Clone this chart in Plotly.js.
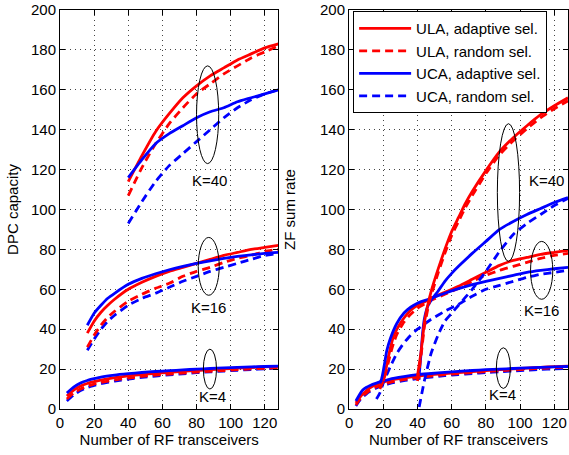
<!DOCTYPE html>
<html>
<head>
<meta charset="utf-8">
<script src="https://cdn.plot.ly/plotly-3.0.1.min.js"></script>
<style>html,body{margin:0;padding:0;background:#fff;}#chart{width:569px;height:455px;}</style>
</head>
<body>
<div id="chart"></div>
<script>
// ---------- Data ----------
const seriesNames = ["ULA, adaptive sel.", "ULA, random sel.", "UCA, adaptive sel.", "UCA, random sel."];
const xTicks = [0, 20, 40, 60, 80, 100, 120];
const yTicks = [0, 20, 40, 60, 80, 100, 120, 140, 160, 180, 200];

// DPC capacity (left)
const dpcX_K4 = [4,8,12,16,20,24,32,40,48,56,64,72,80,88,96,104,112,120,128];
const dpcK4_ulaAdapt = [6.5,9.5,11.5,12.8,13.7,14.5,15.7,16.6,17.3,17.9,18.4,18.9,19.3,19.7,20.1,20.5,20.8,21.1,21.4];
const dpcK4_ulaRand  = [5,8,10,11.5,12.5,13.3,14.6,15.5,16.3,17,17.5,18,18.5,18.9,19.3,19.7,20.1,20.4,20.8];
const dpcK4_ucaAdapt = [8,11,13,14.3,15.2,16,17,17.7,18.3,18.8,19.2,19.6,20,20.3,20.6,20.9,21.1,21.3,21.5];
const dpcK4_ucaRand  = [4,7,9.3,10.8,11.8,12.7,14,15,15.8,16.5,17.1,17.6,18.2,18.6,19,19.4,19.8,20.1,20.5];

const dpcX_K16 = [16,20,24,28,32,40,48,56,64,72,80,88,96,104,112,120,128];
const dpcK16_ulaAdapt = [38,44,48.5,52,55,60,63.5,66.5,69,71,73,75,77,78.5,80,81,82];
const dpcK16_ulaRand  = [31,37,42,46,49,54,57.5,60.5,63,66.5,69,71,73.5,75.5,77,79,80];
const dpcK16_ucaAdapt = [42,48,52,55.5,58,62.5,65.5,67.8,69.8,71.5,73,74.3,75.5,76.5,77.3,78,78.5];
const dpcK16_ucaRand  = [29.5,35,40,44,47,52,55.5,58,61,64,66.5,69,71,73,75,77,78];

const dpcX_K40 = [40,48,56,64,72,80,88,96,104,112,120,128];
const dpcK40_ulaAdapt = [114,127,139,148,156,162,167,171,175,178,181,183];
const dpcK40_ulaRand  = [107,121,133,143,151,158,163,168,172,176,179,182];
const dpcK40_ucaAdapt = [116,125,133,138,142,146,149,151,154,156,158,160];
const dpcK40_ucaRand  = [93,104,114,122,128,134,140,146,151,155,158,160];

// ZF sum rate (right)
const zfX_K4 = [4,6,8,10,12,16,20,24,32,40,48,56,64,72,80,88,96,104,112,120,128];
const zfK4_ulaAdapt = [3,5.5,7.5,9,10.5,12.3,13.5,14.4,15.6,16.5,17.2,17.8,18.3,18.8,19.3,19.7,20.1,20.5,20.9,21.2,21.5];
const zfK4_ulaRand  = [2,4.5,6.5,8,9.3,11,12.3,13.3,14.7,15.7,16.5,17.2,17.8,18.3,18.8,19.2,19.6,20,20.4,20.7,21];
const zfK4_ucaAdapt = [4,7,9.5,10.8,11.7,13,14,15,16.2,17.2,17.8,18.4,18.9,19.3,19.7,20,20.3,20.6,20.9,21.1,21.3];
const zfK4_ucaRand  = [1.5,4,6,7.5,8.7,10.5,11.8,12.8,14.2,15.2,16,16.7,17.3,17.8,18.3,18.7,19.1,19.5,19.8,20.1,20.4];

const zfX_K16_ulaAdapt = [20,21,22,24,26,28,30,32,36,40,44,48,52,56,64,72,80,88,96,104,112,120,128];
const zfK16_ulaAdapt   = [14,17,22,30,36.5,40,43,45.5,49.5,52,53.7,55.3,57,58.5,61.5,65,68.5,72,74.5,76,77.5,78.5,79.5];
const zfX_K16_ulaRand  = [18,20,22,24,26,28,32,36,40,48,56,64,72,80,88,96,104,112,120,128];
const zfK16_ulaRand    = [10,14,20,27,33,37.5,43.5,47.5,50.5,54.5,57.5,60.5,64,67,69.5,71.5,73.5,75.5,77,78];
const zfX_K16_ucaAdapt = [18,19,20,21,22,24,28,32,36,40,44,48,52,56,64,72,80,88,96,104,112,120,128];
const zfK16_ucaAdapt   = [13,15,19,24,29,35,43,48,51,53,54.3,55.5,56.8,58,60.3,62.3,64,65.5,67,68.5,69.5,70.3,71];
const zfX_K16_ucaRand  = [16,18,20,24,28,32,36,40,48,56,64,72,80,88,96,104,112,120,128];
const zfK16_ucaRand    = [5,8,13,21,28,33,37,40,45,49,52.5,56.5,60,62,64,66,67.5,68.5,69.5];

const zfX_K40_ula      = [40,42,44,46,48,52,56,60,64,68,72,80,88,96,104,112,120,128];
const zfK40_ulaAdapt   = [16.5,28,43,52,59,70,80,89,96,103,109,119.5,129,136,142,147.5,152,156];
const zfK40_ulaRand    = [14,26,41,50,57,68,78,87,94,101,107,118,127.5,134.5,140.5,146,150.5,154.5];
const zfX_K40_ucaAdapt = [41,42,43,44,46,48,52,56,60,64,72,80,88,96,104,112,120,128];
const zfK40_ucaAdapt   = [17,27,38,45,51.5,54.5,59,64,68,71.5,78,84,90,94,97.5,100.5,103.5,106];
const zfX_K40_ucaRand  = [41,44,48,52,56,60,64,72,80,88,96,104,112,120,128];
const zfK40_ucaRand    = [1,14,28,37,44,48,52,60,69,79,87.5,93,97.5,102,105.5];

// ---------- Styles ----------
const RED = '#ff0000', BLUE = '#0000ff';
const LW = 2.8;
const DASH = '8px,5px';
const styles = [
  {color: RED, dash: 'solid'},
  {color: RED, dash: DASH},
  {color: BLUE, dash: 'solid'},
  {color: BLUE, dash: DASH}
];

const traces = [];
function add(x, y, idx, xa, ya, showLegend) {
  traces.push({
    x: x, y: y, type: 'scatter', mode: 'lines',
    name: seriesNames[idx], legendgroup: 'g' + idx, showlegend: !!showLegend,
    line: {color: styles[idx].color, width: LW, dash: styles[idx].dash, shape: 'spline', smoothing: 0.5},
    xaxis: xa, yaxis: ya, hoverinfo: 'skip'
  });
}

// Left: DPC
add(dpcX_K4, dpcK4_ucaRand, 3, 'x', 'y');
add(dpcX_K4, dpcK4_ulaRand, 1, 'x', 'y');
add(dpcX_K4, dpcK4_ulaAdapt, 0, 'x', 'y');
add(dpcX_K4, dpcK4_ucaAdapt, 2, 'x', 'y');
add(dpcX_K16, dpcK16_ucaRand, 3, 'x', 'y');
add(dpcX_K16, dpcK16_ulaRand, 1, 'x', 'y');
add(dpcX_K16, dpcK16_ulaAdapt, 0, 'x', 'y');
add(dpcX_K16, dpcK16_ucaAdapt, 2, 'x', 'y');
add(dpcX_K40, dpcK40_ulaAdapt, 0, 'x', 'y', true);
add(dpcX_K40, dpcK40_ulaRand, 1, 'x', 'y', true);
add(dpcX_K40, dpcK40_ucaAdapt, 2, 'x', 'y', true);
add(dpcX_K40, dpcK40_ucaRand, 3, 'x', 'y', true);

// Right: ZF
add(zfX_K4, zfK4_ucaRand, 3, 'x2', 'y2');
add(zfX_K4, zfK4_ulaRand, 1, 'x2', 'y2');
add(zfX_K4, zfK4_ulaAdapt, 0, 'x2', 'y2');
add(zfX_K4, zfK4_ucaAdapt, 2, 'x2', 'y2');
add(zfX_K16_ucaRand, zfK16_ucaRand, 3, 'x2', 'y2');
add(zfX_K16_ulaRand, zfK16_ulaRand, 1, 'x2', 'y2');
add(zfX_K16_ulaAdapt, zfK16_ulaAdapt, 0, 'x2', 'y2');
add(zfX_K16_ucaAdapt, zfK16_ucaAdapt, 2, 'x2', 'y2');
add(zfX_K40_ucaRand, zfK40_ucaRand, 3, 'x2', 'y2');
add(zfX_K40_ucaAdapt, zfK40_ucaAdapt, 2, 'x2', 'y2');
add(zfX_K40_ula, zfK40_ulaRand, 1, 'x2', 'y2');
add(zfX_K40_ula, zfK40_ulaAdapt, 0, 'x2', 'y2');

const FONT = "Arial, 'Liberation Sans', sans-serif";
const GRID = {showgrid: true, gridcolor: '#444', griddash: '1px,4px', gridwidth: 1, zeroline: false};
function xAxis(domain) {
  return Object.assign({
    domain: domain, range: [0, 128], tickvals: xTicks, ticks: 'inside', ticklen: 5, tickcolor: '#000',
    showline: true, linecolor: '#000', linewidth: 1, mirror: 'ticks', ticklabeloverflow: 'allow',
    tickfont: {family: FONT, size: 15, color: '#000'},
    title: {text: 'Number of RF transceivers', font: {family: FONT, size: 15, color: '#000'}, standoff: 4}
  }, GRID);
}
function yAxis(title, anchor, standoff) {
  return Object.assign({
    domain: [0, 1], range: [0, 200], tickvals: yTicks, ticks: 'inside', ticklen: 5, tickcolor: '#000',
    showline: true, linecolor: '#000', linewidth: 1, mirror: 'ticks', anchor: anchor, ticklabeloverflow: 'allow',
    tickfont: {family: FONT, size: 15, color: '#000'},
    title: {text: title, font: {family: FONT, size: 15, color: '#000'}, standoff: standoff}
  }, GRID);
}

function ell(xr, yr, x0, x1, y0, y1) {
  return {type: 'circle', xref: xr, yref: yr, x0: x0, x1: x1, y0: y0, y1: y1, line: {color: '#000', width: 1}};
}
function lab(xr, yr, x, y, t) {
  return {xref: xr, yref: yr, x: x, y: y, text: t, showarrow: false, font: {family: FONT, size: 15, color: '#000'}};
}

const layout = {
  width: 569, height: 455,
  margin: {l: 60, r: 1, t: 10, b: 46},
  paper_bgcolor: '#fff', plot_bgcolor: '#fff',
  font: {family: FONT, size: 15, color: '#000'},
  xaxis: xAxis([0, 0.430]),
  yaxis: yAxis('DPC capacity', 'x', 8),
  xaxis2: Object.assign(xAxis([0.569, 1]), {anchor: 'y2'}),
  yaxis2: yAxis('ZF sum rate', 'x2', 20),
  showlegend: true,
  legend: {
    x: 0.577, y: 0.997, xref: 'paper', yref: 'paper', xanchor: 'left', yanchor: 'top',
    bgcolor: '#fff', bordercolor: '#000', borderwidth: 1, itemwidth: 52,
    font: {family: FONT, size: 15, color: '#000'}, tracegroupgap: 0
  },
  shapes: [
    ell('x', 'y', 80, 93, 123, 172),
    ell('x', 'y', 81, 93.3, 57, 86),
    ell('x', 'y', 84, 91.7, 10, 30),
    ell('x2', 'y2', 86.7, 99.7, 74, 143),
    ell('x2', 'y2', 106.1, 119.1, 55, 84),
    ell('x2', 'y2', 86.1, 94.3, 10.3, 30.7)
  ],
  annotations: [
    lab('x', 'y', 87.4, 114.6, 'K=40'),
    lab('x', 'y', 87, 50.7, 'K=16'),
    lab('x', 'y', 89.2, 6.1, 'K=4'),
    lab('x2', 'y2', 115.3, 114.6, 'K=40'),
    lab('x2', 'y2', 112.3, 49.3, 'K=16'),
    lab('x2', 'y2', 89.6, 7.5, 'K=4')
  ]
};

Plotly.newPlot('chart', traces, layout, {staticPlot: true, displayModeBar: false});
</script>
</body>
</html>
